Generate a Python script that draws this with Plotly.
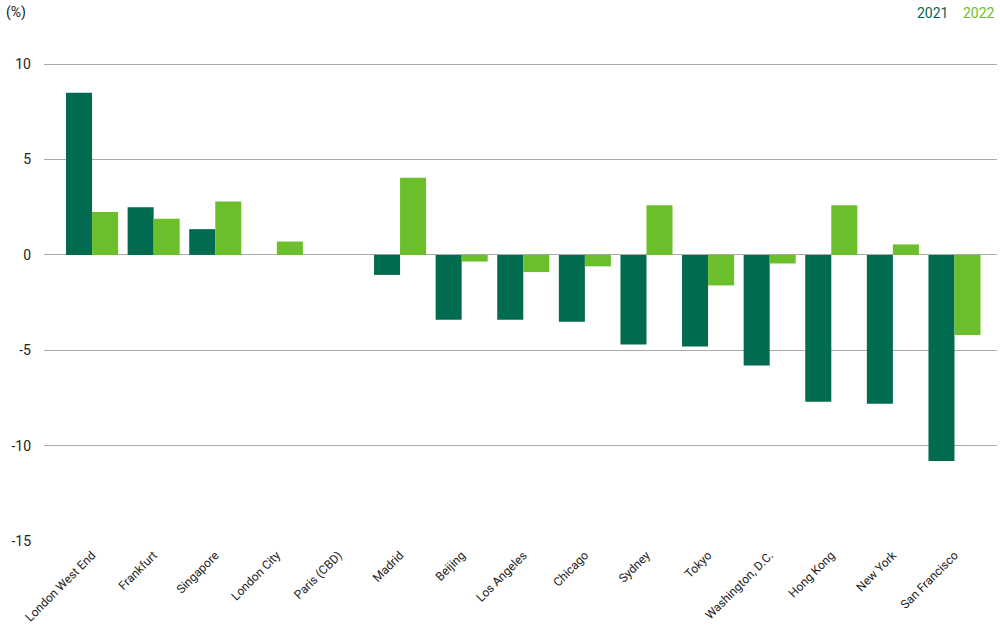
import plotly.graph_objects as go

# Office rental growth by city (%)
cities = [
    "London West End", "Frankfurt", "Singapore", "London City", "Paris (CBD)",
    "Madrid", "Beijing", "Los Angeles", "Chicago", "Sydney", "Tokyo",
    "Washington, D.C.", "Hong Kong", "New York", "San Francisco",
]
growth_2021 = [8.5, 2.5, 1.35, 0.0, 0.0, -1.05, -3.4, -3.4, -3.5, -4.7, -4.8, -5.8, -7.7, -7.8, -10.8]
growth_2022 = [2.25, 1.9, 2.8, 0.7, 0.0, 4.05, -0.35, -0.9, -0.6, 2.6, -1.6, -0.45, 2.6, 0.55, -4.2]
y_ticks = [-15, -10, -5, 0, 5, 10]
y_tick_text = ["-15", "-10", "-5", "0", "5", "10"]

DARK = "#006b4e"
LIGHT = "#6abf2b"
FONT = "Roboto, sans-serif"

fig = go.Figure()
fig.add_trace(go.Bar(x=cities, y=growth_2021, name="2021", marker_color=DARK,
                     marker_line_width=0))
fig.add_trace(go.Bar(x=cities, y=growth_2022, name="2022", marker_color=LIGHT,
                     marker_line_width=0))

fig.update_layout(
    width=1000,
    height=637,
    barmode="group",
    bargap=0.155,
    bargroupgap=0,
    paper_bgcolor="white",
    plot_bgcolor="white",
    font=dict(family=FONT, color="#222", size=14),
    margin=dict(l=44, r=3, t=26, b=96),
    showlegend=False,
    xaxis=dict(
        range=[-0.78, 14.69],
        tickangle=-45,
        showgrid=False,
        showline=False,
        ticks="",
        automargin=False,
        ticklabelstandoff=4,
        tickfont=dict(size=12),
    ),
    yaxis=dict(
        range=[-15, 12],
        tickvals=y_ticks,
        ticktext=y_tick_text,
        showgrid=True,
        gridcolor="#aaaaaa",
        gridwidth=1,
        zeroline=True,
        zerolinecolor="#aaaaaa",
        zerolinewidth=1,
        ticks="",
        automargin=False,
        ticklabelstandoff=12,
        tickfont=dict(size=14),
    ),
)

# unit label and colour-key legend
fig.add_annotation(text="(%)", xref="paper", yref="paper", x=-0.042, y=1.005,
                   xanchor="left", yanchor="bottom", showarrow=False,
                   font=dict(size=14, color="#222"))
fig.add_annotation(text="2021", xref="paper", yref="paper", x=0.951, y=1.005,
                   xanchor="right", yanchor="bottom", showarrow=False,
                   font=dict(size=14, color=DARK))
fig.add_annotation(text="2022", xref="paper", yref="paper", x=1.0, y=1.005,
                   xanchor="right", yanchor="bottom", showarrow=False,
                   font=dict(size=14, color=LIGHT))

# drop the default page margin so the figure sits at the window's corner
fig.write_html("out.html", config={"displayModeBar": False},
               post_script="document.body.style.margin = '0';")
